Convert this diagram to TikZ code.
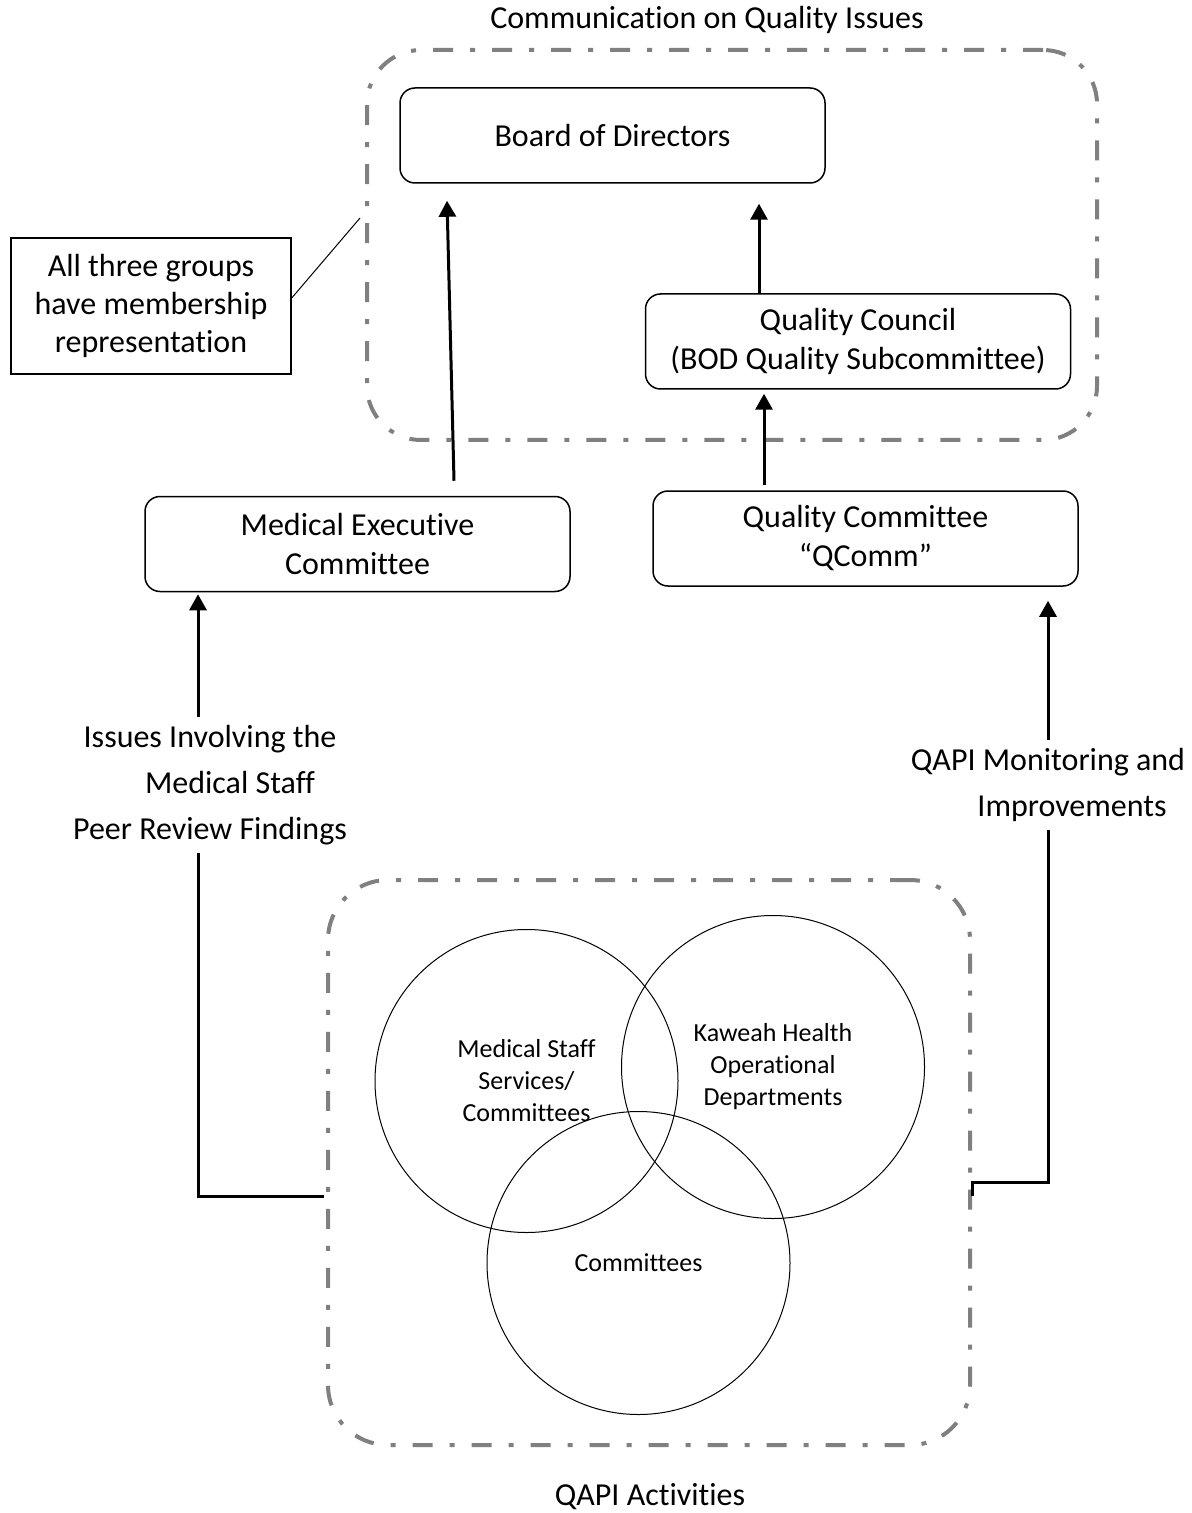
\documentclass[tikz,border=0pt]{standalone}
\usepackage{fontspec}
\setmainfont{Carlito}[Ligatures=NoCommon]
\usetikzlibrary{calc, arrows.meta}
\definecolor{grpgray}{HTML}{808080}

\begin{document}
\begin{tikzpicture}[x=0.5pt, y=-0.5pt,
  box/.style={draw, rounded corners=7.5pt, line width=0.75pt, align=center,
    minimum width=212.5pt, minimum height=47.5pt, inner sep=0pt,
    font=\fontsize{16}{19.5}\selectfont},
  grp/.style={draw=grpgray, line width=2pt, line cap=butt,
    dash pattern=on 10pt off 8.5pt on 2.5pt off 8.5pt},
  venn/.style={draw, circle, line width=0.5pt, minimum size=151.5pt,
    inner sep=0pt, align=center, font=\fontsize{13}{16}\selectfont},
  lbl/.style={align=center, inner sep=0pt, font=\fontsize{16}{23}\selectfont},
  arr/.style={line width=1.5pt, -{Triangle[length=8pt,width=8.5pt]}},
  link/.style={line width=1.5pt}]
  \useasboundingbox (0,0) rectangle (1191,1513);

  % upper group
  \node[lbl] (title) at (707,20) {Communication on Quality Issues};
  \node[grp, rounded corners=27pt, minimum width=365pt, minimum height=195pt]
    (topgrp) at (732,245) {};
  \node[box] (bod) at (612.5,135.5) {Board of Directors};
  \node[box] (qc) at (858,341.5) {Quality Council\\(BOD Quality Subcommittee)};
  \node[draw, line width=0.75pt, align=center, minimum width=140pt,
    minimum height=68pt, inner sep=0pt, font=\fontsize{16}{19}\selectfont]
    (note) at (151,306) {All three groups\\have membership\\representation};
  \draw[line width=0.5pt] ($(note.east)+(0,-8)$) -- ($(topgrp.west)+(-5,-27)$);

  % committees
  \node[box] (mec) at (357.5,544) {Medical Executive\\Committee};
  \node[box] (qcomm) at (865.5,538.5) {Quality Committee\\``QComm''};

  % lower group
  \node[grp, rounded corners=30pt, minimum width=321pt, minimum height=282.5pt]
    (actgrp) at (649,1162.5) {};
  \node[venn] (c1) at (526.5,1081) {Medical Staff\\Services/\\Committees};
  \node[venn] (c2) at (773,1067) {Kaweah Health\\Operational\\Departments};
  \node[venn] (c3) at (638.5,1263) {Committees};
  \node[lbl] (act) at (650,1497) {QAPI Activities};

  \node[lbl] (issues) at (210,785) {Issues Involving the\\
    \hspace*{20pt}Medical Staff\\Peer Review Findings};
  \node[lbl] (qapi) at (1048,785) {QAPI Monitoring and\\
    \hspace*{24pt}Improvements};

  % arrows
  \draw[arr] ($(mec.north)+(96.5,-15)$) -- ($(bod.south)+(-165.5,17)$);
  \draw[arr] ($(qc.north)+(-99,0)$) -- ($(bod.south)+(146.5,20)$);
  \draw[arr] ($(qcomm.north)+(-101.5,-5)$) -- ($(qc.south)+(-94,4)$);
  \draw[arr] ($(issues.north)+(-12,-8)$) -- ($(mec.south)+(-159.5,2)$);
  \draw[link] ($(issues.south)+(-12,8)$) |- ($(actgrp.west)+(-2,33.5)$);
  \draw[arr] ($(qapi.north)+(0,-8)$) -- ($(qcomm.south)+(182.5,14)$);
  \draw[link] ($(qapi.south)+(0,8)$) |- ($(actgrp.east)+(0,19.5)$)
    -- ($(actgrp.east)+(0,33.5)$);
\end{tikzpicture}
\end{document}
